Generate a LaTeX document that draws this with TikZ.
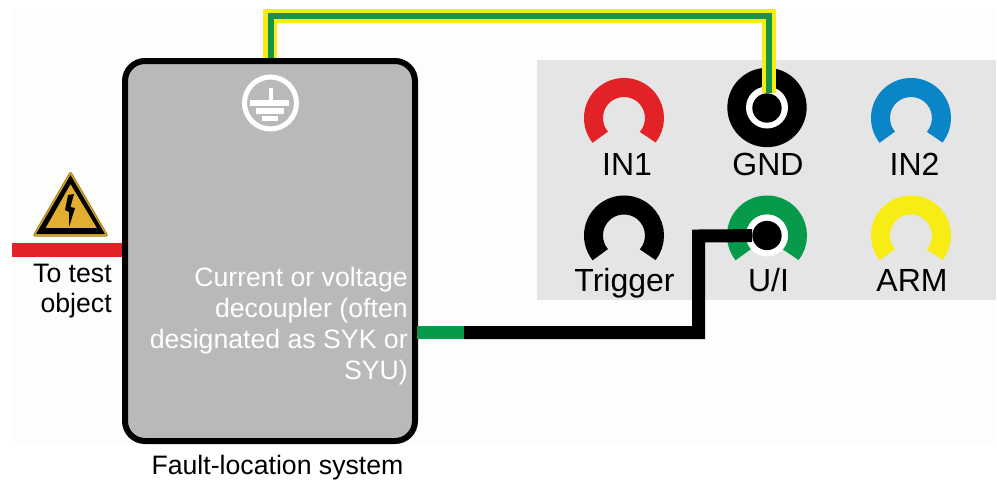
\documentclass[tikz,border=0pt]{standalone}
\usepackage{fontspec}
\setmainfont{Liberation Sans}
\definecolor{bgc}{HTML}{FDFDFB}
\definecolor{panelc}{HTML}{E5E5E5}
\definecolor{boxc}{HTML}{B9B9B9}
\definecolor{redc}{HTML}{E32227}
\definecolor{bluec}{HTML}{0A85C8}
\definecolor{greenc}{HTML}{069A4A}
\definecolor{dgreenc}{HTML}{17934A}
\definecolor{yellowc}{HTML}{F7EC13}
\definecolor{warnc}{HTML}{E2AE30}
\definecolor{warnd}{HTML}{A8801E}
\tikzset{
  x=0.75pt,y=0.75pt,
  lab/.style={font=\fontsize{24pt}{27pt}\selectfont,text=black,anchor=base,inner sep=0pt},
  txt/.style={font=\fontsize{20pt}{23pt}\selectfont,inner sep=0pt},
  wtxt/.style={txt,text=white,anchor=base east},
  ktxt/.style={txt,text=black,anchor=base east},
  arcsock/.style={line width=14.25pt,draw=#1},
  earthbar/.style={fill=white,draw=none},
  wire/.style={line width=9.75pt,line cap=butt,line join=miter},
  pin/.style={circle,fill=black,inner sep=0pt,minimum size=22pt},
  halo/.style={circle,fill=white,inner sep=0pt,minimum size=31.5pt},
}
\newcommand{\sockarc}[3]{\draw[arcsock=#3] ([shift={(219:22.875pt)}]#1,#2) arc[start angle=219,end angle=-39,radius=22.875pt];}
\begin{document}
\begin{tikzpicture}
\useasboundingbox (0,0) rectangle (997,-479);
\fill[white] (0,0) rectangle (997,-479);
\fill[bgc] (12,-9) rectangle (996,-444);
\fill[panelc] (537,-60) rectangle (996,-300);
% sockets
\sockarc{624}{-118}{redc}
\sockarc{911}{-118}{bluec}
\sockarc{624}{-235.5}{black}
\sockarc{767}{-235.5}{greenc}
\sockarc{911}{-235.5}{yellowc}
\node[circle,fill=black,inner sep=0pt,minimum size=59.5pt] (gnd) at (767,-107.5) {};
\node[halo] (gndring) at (767,-107.5) {};
\node[pin] (gndpin) at (767,-108) {};
\node[halo] (uiring) at (767,-235.5) {};
% labels
\node[lab] (lin1) at (627,-175.5) {IN1};
\node[lab] (lgnd) at (768,-175.5) {GND};
\node[lab] (lin2) at (914.5,-175.5) {IN2};
\node[lab] (ltrig) at (624.5,-291) {Trigger};
\node[lab] (lui) at (768.5,-291) {U/I};
\node[lab] (larm) at (912,-291) {ARM};
% red line
\fill[redc] (12,-243) rectangle (125,-257);
% earth wire
\coordinate (ea) at (270,-62);
\coordinate (eb) at (270,-16);
\coordinate (ec) at (769,-16);
\coordinate (ed) at (769,-93);
\draw[line width=10.5pt,draw=yellowc,line join=miter] (ea) -- (eb) -- (ec) -- (ed);
\draw[line width=4.5pt,draw=dgreenc,line join=miter] (271,-62) -- (271,-15.5) -- (769,-15.5) -- (ed);
% box
\node[draw=black,fill=boxc,line width=4.5pt,rounded corners=15pt,minimum width=217.5pt,minimum height=285pt,inner sep=0pt] (box) at (270,-251) {};
% measurement wire
\node[pin] (uipin) at (767,-235.5) {};
\coordinate (wa) at (box.east |- 0,-332.5);
\coordinate (wb) at (464,-332.5);
\coordinate (wc) at (698.5,-332.5);
\coordinate (wd) at (698.5,-236);
\fill[greenc] (417,-326) rectangle (464,-339);
\draw[wire] (wb) -- (wc) -- (wd) -- (uipin);
% earth symbol
\node[circle,draw=white,line width=3.75pt,fill=none,inner sep=0pt,minimum size=39pt] (earth) at (270.5,-103) {};
\fill[earthbar] (268.5,-88) rectangle (272.5,-101);
\fill[earthbar] (250,-100) rectangle (289,-106);
\fill[earthbar] (256,-108) rectangle (284,-114);
\fill[earthbar] (262,-116) rectangle (278,-121);
% warning sign
\filldraw[fill=warnc,draw=warnd,line width=0.75pt,line join=round,rounded corners=1.5pt] (70.5,-171.5) -- (108,-236) -- (33,-236) -- cycle;
\fill[black,even odd rule] (70.5,-175) -- (105,-234) -- (36,-234) -- cycle (70.5,-184) -- (45.5,-228) -- (97,-228) -- cycle;
\fill[black] (68,-195) -- (74,-194) -- (70.5,-207) -- (75,-208) -- (69,-227) -- (69,-212) -- (65,-210) -- cycle;
% texts
\node[ktxt] (t1) at (112,-282) {To test};
\node[ktxt] (t2) at (112,-312) {object};
\node[wtxt] (d1) at (408,-286) {Current or voltage};
\node[wtxt] (d2) at (408,-317) {decoupler (often};
\node[wtxt] (d3) at (408,-348) {designated as SYK or};
\node[wtxt] (d4) at (408,-379) {SYU)};
\node[txt,text=black,anchor=base] (fl) at (277.5,-474) {Fault-location system};
\end{tikzpicture}
\end{document}
